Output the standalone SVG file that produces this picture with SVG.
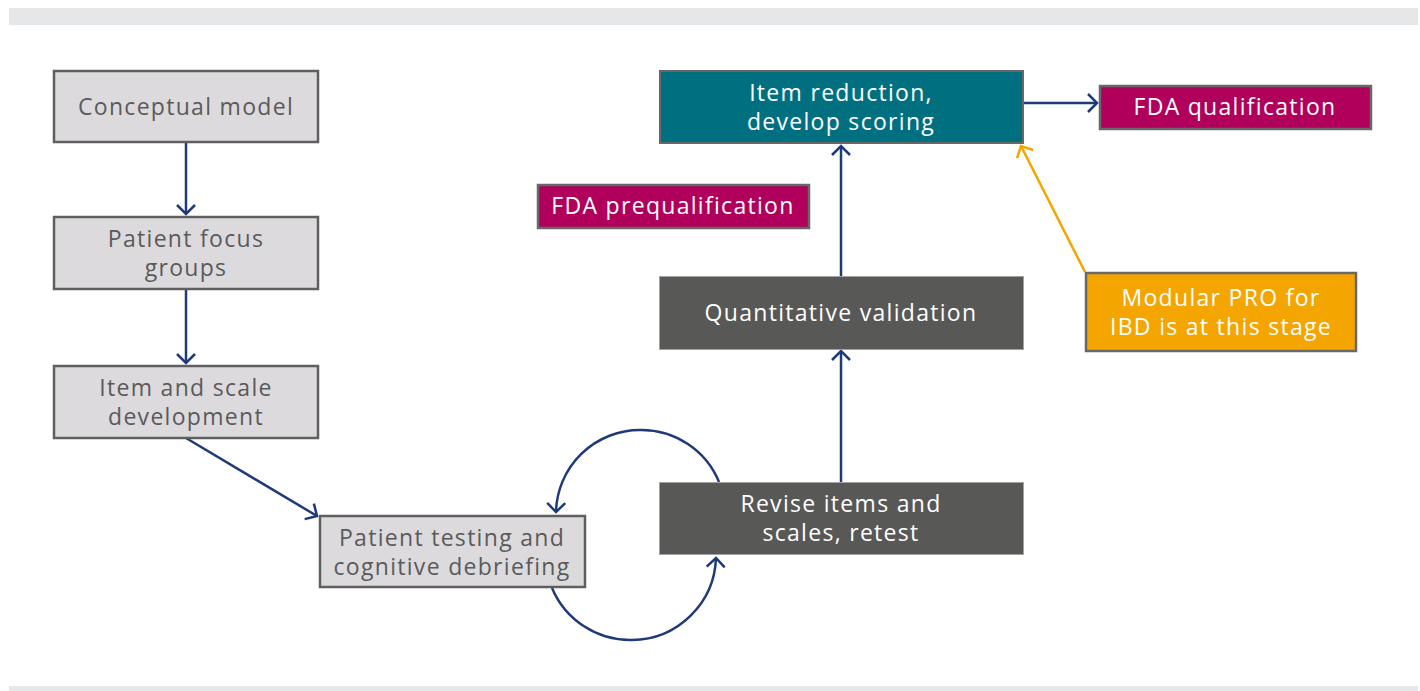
<svg xmlns="http://www.w3.org/2000/svg" width="1420" height="691" viewBox="0 0 1420 691">
<defs>
<style>
.lt{fill:#dcdadd;stroke:#5f5f5f;stroke-width:2.5}
.dk{fill:#585856;stroke:#a3a3a3;stroke-width:1}
.tl{fill:#006f80;stroke:#686868;stroke-width:2}
.mg{fill:#b0005b;stroke:#686868;stroke-width:2.5}
.or{fill:#f5a500;stroke:#686868;stroke-width:2.5}
text{font-family:"Open Sans","Liberation Sans",sans-serif;font-size:23px;text-anchor:middle;letter-spacing:1.3px}
.tg{fill:#5a5a5a}
.tw{fill:#ffffff}
.c{fill:none;stroke:#1f3a7a;stroke-width:2.5;marker-end:url(#a)}
.co{fill:none;stroke:#f5a500;stroke-width:2.5;marker-end:url(#ao)}
</style>
<marker id="a" markerUnits="userSpaceOnUse" viewBox="-12 -12 14 24" refX="0" refY="0" markerWidth="14" markerHeight="24" orient="auto" overflow="visible">
<path d="M-9,-9 L0,0 L-9,9" fill="none" stroke="#1f3a7a" stroke-width="2.5"/>
</marker>
<marker id="ao" markerUnits="userSpaceOnUse" viewBox="-12 -12 14 24" refX="0" refY="0" markerWidth="14" markerHeight="24" orient="auto" overflow="visible">
<path d="M-9,-9 L0,0 L-9,9" fill="none" stroke="#f5a500" stroke-width="2.5"/>
</marker>
</defs>
<rect x="0" y="0" width="1420" height="691" fill="#ffffff"/>
<rect x="9" y="8" width="1409" height="17" fill="#e6e7e8"/>
<rect x="9" y="686" width="1409" height="5" fill="#e6e7e8"/>

<g id="connectors">
<path class="c" d="M186,142 L186,214"/>
<path class="c" d="M186,289 L186,363"/>
<path class="c" d="M186,438 L317,516"/>
<path class="c" d="M719,482 A84,84 0 0 0 640,430 A84,84 0 0 0 556,512"/>
<path class="c" d="M552,588 A85,85 0 0 0 632,640 A85,85 0 0 0 716,558"/>
<path class="c" d="M841,482 L841,351"/>
<path class="c" d="M841,276 L841,146"/>
<path class="c" d="M1023,103 L1097,103"/>
<path class="co" d="M1085,272 L1021,146"/>
</g>

<g id="conceptual-model">
<rect class="lt" x="54" y="71" width="264" height="71"/>
<text class="tg" x="186" y="115">Conceptual model</text>
</g>
<g id="patient-focus-groups">
<rect class="lt" x="54" y="217" width="264" height="72"/>
<text class="tg" x="186" y="247">Patient focus</text>
<text class="tg" x="186" y="276">groups</text>
</g>
<g id="item-scale-development">
<rect class="lt" x="54" y="366" width="264" height="72"/>
<text class="tg" x="186" y="396">Item and scale</text>
<text class="tg" x="186" y="425">development</text>
</g>
<g id="patient-testing">
<rect class="lt" x="320" y="516" width="265" height="71"/>
<text class="tg" x="452" y="546">Patient testing and</text>
<text class="tg" x="452" y="575">cognitive debriefing</text>
</g>
<g id="revise-items">
<rect class="dk" x="659.5" y="482.5" width="364" height="72"/>
<text class="tw" x="841" y="512">Revise items and</text>
<text class="tw" x="841" y="541">scales, retest</text>
</g>
<g id="quantitative-validation">
<rect class="dk" x="659.5" y="276.5" width="364" height="73"/>
<text class="tw" x="841" y="321">Quantitative validation</text>
</g>
<g id="item-reduction">
<rect class="tl" x="660" y="71" width="363" height="72"/>
<text class="tw" x="841" y="101">Item reduction,</text>
<text class="tw" x="841" y="130">develop scoring</text>
</g>
<g id="fda-qualification">
<rect class="mg" x="1100" y="86" width="271" height="43"/>
<text class="tw" x="1235" y="115">FDA qualification</text>
</g>
<g id="fda-prequalification">
<rect class="mg" x="538" y="185" width="271" height="43"/>
<text class="tw" x="673" y="214">FDA prequalification</text>
</g>
<g id="modular-pro">
<rect class="or" x="1086" y="273" width="270" height="78"/>
<text class="tw" x="1221" y="306">Modular PRO for</text>
<text class="tw" x="1221" y="335">IBD is at this stage</text>
</g>
</svg>
